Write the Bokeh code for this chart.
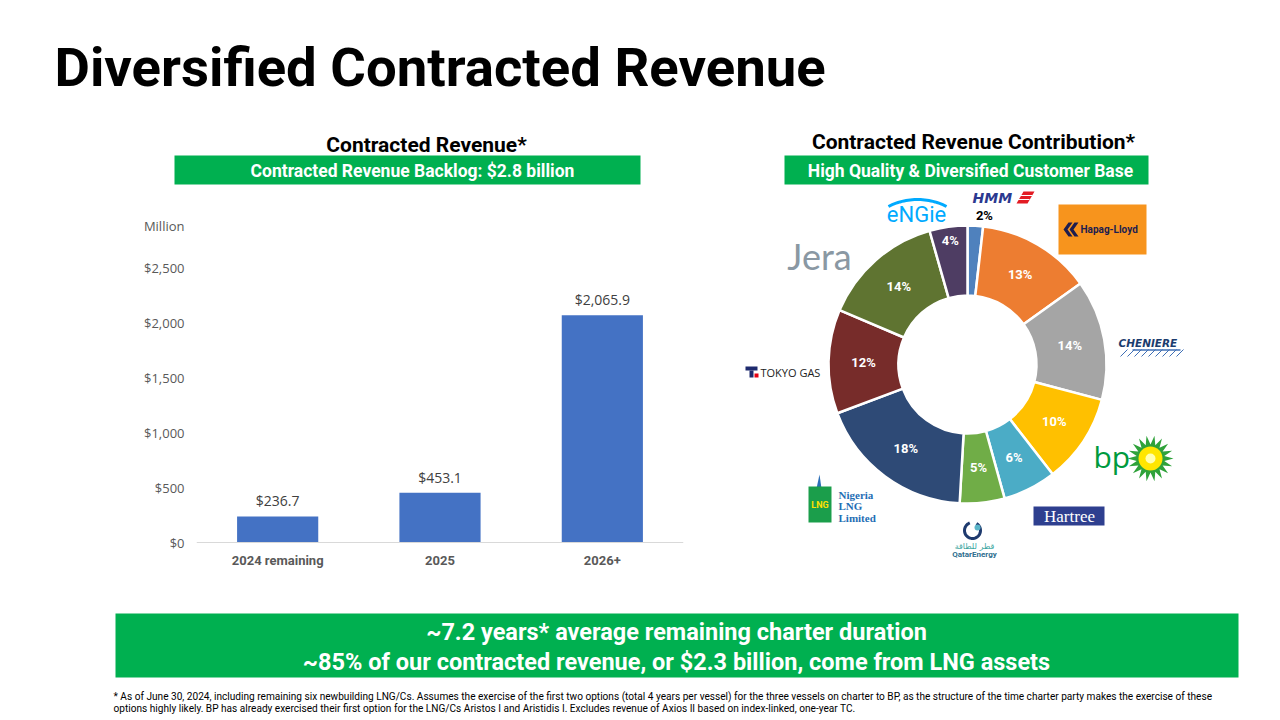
import numpy as np
from bokeh.plotting import figure
from bokeh.layouts import column, row
from bokeh.models import Range1d, FactorRange, ColumnDataSource, FixedTicker, NumeralTickFormatter
from bokeh.core.properties import value
from bokeh.embed import file_html
from bokeh.resources import INLINE

# ---------------- data ----------------
TITLE = "Diversified Contracted Revenue"
LEFT_HEAD = "Contracted Revenue*"
LEFT_BANNER = "Contracted Revenue Backlog: $2.8 billion"
RIGHT_HEAD = "Contracted Revenue Contribution*"
RIGHT_BANNER = "High Quality & Diversified Customer Base"

periods = ["2024 remaining", "2025", "2026+"]
revenue = [236.7, 453.1, 2065.9]
revenue_labels = ["$236.7", "$453.1", "$2,065.9"]
y_ticks = [0, 500, 1000, 1500, 2000, 2500]
y_unit = "Million"

customers = ["HMM", "Hapag-Lloyd", "Cheniere", "bp", "Hartree",
             "QatarEnergy", "Nigeria LNG", "Tokyo Gas", "JERA", "ENGIE"]
shares = [1.8, 13.3, 14.0, 10.4, 6.2, 5.2, 18.4, 12.1, 14.2, 4.4]
share_labels = ["2%", "13%", "14%", "10%", "6%", "5%", "18%", "12%", "14%", "4%"]
slice_colors = ["#4F81BD", "#ED7D31", "#A5A5A5", "#FFC000", "#4BACC6",
                "#70AD47", "#2E4A76", "#772C2A", "#5F7431", "#4E3D63"]

BOTTOM_LINES = ["~7.2 years* average remaining charter duration",
                "~85% of our contracted revenue, or $2.3 billion, come from LNG assets"]
FOOTNOTE = ["* As of June 30, 2024, including remaining six newbuilding LNG/Cs. Assumes the exercise of the first two options (total 4 years per vessel) for the three vessels on charter to BP, as the structure of the time charter party makes the exercise of these",
            "options highly likely. BP has already exercised their first option for the LNG/Cs Aristos I and Aristidis I. Excludes revenue of Axios II based on index-linked, one-year TC."]

GREEN = "#00B050"
FONT = value("Roboto")


def canvas(w, h, x0, y0):
    p = figure(width=w, height=h, x_range=Range1d(x0, x0 + w), y_range=Range1d(y0 + h, y0),
               output_backend="svg", toolbar_location=None, tools="",
               x_axis_location=None, y_axis_location=None, min_border=0)
    p.outline_line_color = None
    p.grid.visible = False
    return p


# ---------------- header (screen y 0..188) ----------------
hdr = canvas(1280, 188, 0, 0)
hdr.text(x=[54], y=[66], text=[TITLE], text_font=FONT, text_font_style="bold",
         text_font_size="54.5px", text_color="black", text_baseline="middle")
hdr.text(x=[426], y=[144], text=[LEFT_HEAD], text_font=FONT, text_font_style="bold",
         text_font_size="21px", text_color="black", text_align="center", text_baseline="middle")
hdr.quad(left=[174], right=[640], top=[155], bottom=[184], fill_color=GREEN, line_color=None)
hdr.text(x=[412], y=[170], text=[LEFT_BANNER], text_font=FONT, text_font_style="bold",
         text_font_size="17.5px", text_color="white", text_align="center", text_baseline="middle")
hdr.text(x=[973], y=[141], text=[RIGHT_HEAD], text_font=FONT, text_font_style="bold",
         text_font_size="21px", text_color="black", text_align="center", text_baseline="middle")
hdr.quad(left=[784], right=[1148], top=[155], bottom=[184], fill_color=GREEN, line_color=None)
hdr.text(x=[970], y=[170], text=[RIGHT_BANNER], text_font=FONT, text_font_style="bold",
         text_font_size="17.5px", text_color="white", text_align="center", text_baseline="middle")

# ---------------- bar chart (screen x 0..700, y 188..600) ----------------
PX_PER_UNIT = 55.0 / 500.0          # vertical scale of the value axis
ZERO_Y, TOP_Y, BOT_Y = 542, 188, 600  # screen rows: zero line, frame top, frame bottom
y_start = -(BOT_Y - ZERO_Y) / PX_PER_UNIT
y_end = (ZERO_Y - TOP_Y) / PX_PER_UNIT
unit_pos = (ZERO_Y - 225) / PX_PER_UNIT

src = ColumnDataSource(dict(x=periods, top=revenue, lab=revenue_labels))
pb = figure(width=700, height=412, x_range=FactorRange(*periods), y_range=Range1d(y_start, y_end),
            output_backend="svg", toolbar_location=None, tools="",
            min_border_left=196, min_border_right=17, min_border_top=0, min_border_bottom=0)
pb.outline_line_color = None
pb.grid.visible = False
pb.vbar(x="x", top="top", bottom=0, width=0.5, source=src, fill_color="#4472C4", line_color=None)
pb.text(x="x", y="top", text="lab", source=src, text_align="center", text_baseline="bottom",
        y_offset=-6, text_font=value("Open Sans"), text_font_size="14px", text_color="#404040")
pb.xaxis.fixed_location = 0
pb.xaxis.axis_line_color = "#D9D9D9"
pb.xaxis.major_tick_line_color = None
pb.xaxis.minor_tick_line_color = None
pb.xaxis.major_label_text_font = "Roboto"
pb.xaxis.major_label_text_font_style = "bold"
pb.xaxis.major_label_text_font_size = "13px"
pb.xaxis.major_label_text_color = "#595959"
pb.xaxis.major_label_standoff = 4
pb.yaxis.axis_line_color = None
pb.yaxis.major_tick_line_color = None
pb.yaxis.minor_tick_line_color = None
pb.yaxis.ticker = FixedTicker(ticks=y_ticks + [unit_pos])
pb.yaxis.formatter = NumeralTickFormatter(format="$0,0")
pb.yaxis.major_label_overrides = {unit_pos: y_unit}
pb.yaxis.major_label_text_font = "Open Sans"
pb.yaxis.major_label_text_font_size = "13px"
pb.yaxis.major_label_text_color = "#595959"
pb.yaxis.major_label_standoff = 6

# ---------------- donut (screen x 700..1280, y 188..600) ----------------
CX, CY = 967, 364
def X(sx):
    return sx - CX
def Y(sy):
    return CY - sy

pd_ = figure(width=580, height=412, x_range=Range1d(700 - CX, 1280 - CX), y_range=Range1d(CY - 600, CY - 188),
             output_backend="svg", toolbar_location=None, tools="",
             x_axis_location=None, y_axis_location=None, min_border=0)
pd_.outline_line_color = None
pd_.grid.visible = False

sh = np.array(shares, dtype=float)
cum = np.concatenate([[0.0], np.cumsum(sh)]) / sh.sum() * 2 * np.pi
start = np.pi / 2 - cum[1:]
end = np.pi / 2 - cum[:-1]
dsrc = ColumnDataSource(dict(start=start, end=end, color=slice_colors, name=customers))
R_IN, R_OUT = 69, 139
pd_.annular_wedge(x=0, y=0, inner_radius=R_IN, outer_radius=R_OUT, start_angle="start", end_angle="end",
                  direction="anticlock", fill_color="color", line_color="white", line_width=2.5, source=dsrc)

mid = (start + end) / 2
lx, ly, lc = [], [], []
for s, a, e in zip(sh, mid, start):
    if s < 3:
        r, ang, c = 150, e, "black"
    elif s < 5:
        r, ang, c = 125, a, "white"
    else:
        r, ang, c = (R_IN + R_OUT) / 2, a, "white"
    lx.append(r * np.cos(ang)); ly.append(r * np.sin(ang)); lc.append(c)
pd_.text(x=lx, y=ly, text=share_labels, text_color=lc, text_font=FONT, text_font_style="bold",
         text_font_size="13px", text_align="center", text_baseline="middle")

# --- customer logos (drawn approximations) ---
# HMM
pd_.text(x=[X(972)], y=[Y(197)], text=["HMM"], text_font=value("DejaVu Sans"), text_font_style="bold italic",
         text_font_size="14px", text_color="#2B3990", text_baseline="middle")
pd_.patch(x=[X(1016), X(1023), X(1034), X(1027)], y=[Y(203), Y(191), Y(191), Y(203)], fill_color="#E31B23", line_color=None)
pd_.multi_line(xs=[[X(1019), X(1032)], [X(1017), X(1029)]], ys=[[Y(195), Y(195)], [Y(199), Y(199)]],
               line_color="white", line_width=1)
# Hapag-Lloyd
pd_.quad(left=[X(1058)], right=[X(1146)], top=[Y(204)], bottom=[Y(254)], fill_color="#F7941D", line_color=None)
for off in (0, 6):
    pd_.patch(x=[X(1063 + off), X(1068 + off), X(1072 + off), X(1067 + off), X(1072 + off), X(1068 + off)],
              y=[Y(229), Y(222), Y(222), Y(229), Y(236), Y(236)], fill_color="#1D1D4F", line_color=None)
pd_.text(x=[X(1080)], y=[Y(229)], text=["Hapag-Lloyd"], text_font=FONT, text_font_style="bold",
         text_font_size="10px", text_color="#1D1D4F", text_baseline="middle")
# ENGIE
arc_t = np.radians(np.linspace(63, 117, 30))
pd_.line(x=X(917) + 64 * np.cos(arc_t), y=Y(263) + 64 * np.sin(arc_t), line_color="#00AAFF", line_width=3)
pd_.text(x=[X(916)], y=[Y(214)], text=["eNGie"], text_font=FONT, text_font_size="22px",
         text_color="#00AAFF", text_align="center", text_baseline="middle")
# JERA
pd_.text(x=[X(819)], y=[Y(255)], text=["Jera"], text_font=value("Lato"), text_font_size="36px",
         text_color="#8A98A3", text_align="center", text_baseline="middle")
# Tokyo Gas
pd_.quad(left=[X(745)], right=[X(757)], top=[Y(366)], bottom=[Y(370)], fill_color="#1E2A6E", line_color=None)
pd_.quad(left=[X(749)], right=[X(753)], top=[Y(370)], bottom=[Y(377)], fill_color="#1E2A6E", line_color=None)
pd_.quad(left=[X(754)], right=[X(758)], top=[Y(373)], bottom=[Y(377)], fill_color="#E60012", line_color=None)
pd_.text(x=[X(760)], y=[Y(372)], text=["TOKYO GAS"], text_font=value("Open Sans"), text_font_size="11px",
         text_color="#222222", text_baseline="middle")
# Cheniere
pd_.text(x=[X(1118)], y=[Y(342)], text=["CHENIERE"], text_font=value("DejaVu Sans"), text_font_style="bold italic",
         text_font_size="10.5px", text_color="#1B3C6E", text_baseline="middle")
pd_.multi_line(xs=[[X(1120 + 7 * i), X(1127 + 7 * i)] for i in range(9)],
               ys=[[Y(356), Y(349)] for i in range(9)], line_color="#3F6FB5", line_width=1)
pd_.line(x=[X(1132), X(1180)], y=[Y(349.5), Y(349.5)], line_color="#3F6FB5", line_width=1.5)
# bp
n = 18
ang = np.linspace(0, 2 * np.pi, 2 * n, endpoint=False)
rr = np.where(np.arange(2 * n) % 2 == 0, 23, 14)
pd_.patch(x=X(1150) + rr * np.cos(ang), y=Y(458) + rr * np.sin(ang), fill_color="#2FA23A", line_color=None)
pd_.circle(x=[X(1150)], y=[Y(458)], radius=12, fill_color="#FFE600", line_color=None)
pd_.circle(x=[X(1150)], y=[Y(458)], radius=5, fill_color="#FFFFB0", line_color=None)
pd_.text(x=[X(1093)], y=[Y(456)], text=["bp"], text_font=value("Open Sans"), text_font_size="30px",
         text_color="#009A3E", text_baseline="middle")
# Hartree
pd_.quad(left=[X(1033)], right=[X(1104)], top=[Y(506)], bottom=[Y(525)], fill_color="#2E3F8F", line_color=None)
pd_.text(x=[X(1069)], y=[Y(516)], text=["Hartree"], text_font=value("Liberation Serif"), text_font_size="17px",
         text_color="white", text_align="center", text_baseline="middle")
# QatarEnergy
drop_t = np.radians(np.linspace(110, 420, 40))
pd_.line(x=X(972) + 8 * np.cos(drop_t), y=Y(530) + 8 * np.sin(drop_t), line_color="#1E3A6E", line_width=3)
pd_.circle(x=[X(977)], y=[Y(527)], radius=3, fill_color="#5BB5C8", line_color=None)
pd_.text(x=[X(974)], y=[Y(546)], text=["قطر للطاقة"], text_font=value("DejaVu Sans"), text_font_size="8px",
         text_color="#3AA6A0", text_align="center", text_baseline="middle")
pd_.text(x=[X(974)], y=[Y(554)], text=["QatarEnergy"], text_font=FONT, text_font_style="bold",
         text_font_size="8px", text_color="#2E6E8E", text_align="center", text_baseline="middle")
# Nigeria LNG
pd_.patch(x=[X(816), X(819), X(821)], y=[Y(488), Y(474), Y(488)], fill_color="#2C6FB7", line_color=None)
pd_.quad(left=[X(808)], right=[X(831)], top=[Y(486)], bottom=[Y(522)], fill_color="#1B9E4B", line_color=None)
pd_.text(x=[X(819.5)], y=[Y(504)], text=["LNG"], text_font=FONT, text_font_style="bold", text_font_size="9px",
         text_color="#FFE100", text_align="center", text_baseline="middle")
pd_.text(x=[X(838)] * 3, y=[Y(494), Y(505), Y(517)], text=["Nigeria", "LNG", "Limited"],
         text_font=value("Liberation Serif"), text_font_size="11px", text_font_style="bold",
         text_color="#1F6EB5", text_baseline="middle")

# ---------------- bottom (screen y 600..720) ----------------
bot = canvas(1280, 120, 0, 600)
bot.quad(left=[115], right=[1238], top=[613], bottom=[677], fill_color=GREEN, line_color=None)
bot.text(x=[676, 676], y=[631, 661], text=BOTTOM_LINES, text_font=FONT, text_font_style="bold",
         text_font_size="23.5px", text_color="white", text_align="center", text_baseline="middle")
bot.text(x=[113, 113], y=[696, 708], text=FOOTNOTE, text_font=FONT, text_font_size="10.1px",
         text_color="black", text_baseline="middle")

layout = column(hdr, row(pb, pd_), bot)
open("out.html", "w").write(file_html(layout, INLINE))
